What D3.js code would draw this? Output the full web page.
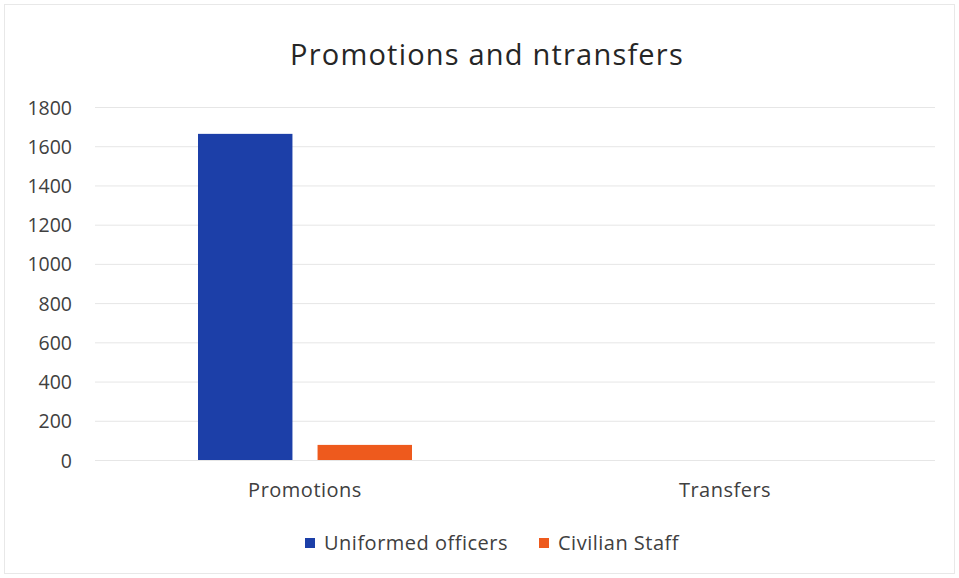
<!DOCTYPE html>
<html>
<head>
<meta charset="utf-8">
<script src="https://cdn.jsdelivr.net/npm/d3@7"></script>
<style>
  body { margin: 0; background: #fff; }
  svg, svg text { font-family: "Open Sans", "Noto Sans", sans-serif; }
  .tick text { fill: #404040; }
</style>
</head>
<body>
<svg id="chart" width="959" height="578"></svg>
<script>
// data
const categories = ["Promotions", "Transfers"];
const seriesNames = ["Uniformed officers", "Civilian Staff"];
const uniformed = [1663, 0];
const civilian = [77, 0];
const yTicks = [0, 200, 400, 600, 800, 1000, 1200, 1400, 1600, 1800];
const colors = ["#1c3fa8", "#ee5a1d"];

const svg = d3.select("#chart");
const W = 959, H = 578;
const margin = {top: 107, right: 24, bottom: 118, left: 95};
const iw = W - margin.left - margin.right;
const ih = H - margin.top - margin.bottom;

svg.append("rect")
    .attr("x", 4.5).attr("y", 4.5)
    .attr("width", W - 9).attr("height", H - 9)
    .attr("fill", "none").attr("stroke", "#e8e8e8");

const g = svg.append("g").attr("transform", `translate(${margin.left},${margin.top})`);

const x0 = d3.scaleBand().domain(categories).range([0, iw]).paddingInner(0).paddingOuter(0);
const x1 = d3.scaleBand().domain(seriesNames).range([103, x0.bandwidth() - 103]).paddingInner(0.21);
const y = d3.scaleLinear().domain([0, 1800]).range([ih, 0]);

// gridlines
g.append("g")
    .selectAll("line")
    .data(yTicks)
    .join("line")
    .attr("x1", 0).attr("x2", iw)
    .attr("y1", d => y(d) + 0.5).attr("y2", d => y(d) + 0.5)
    .attr("stroke", "#e6e6e6");

// y axis labels
const yAxis = g.append("g")
    .call(d3.axisLeft(y).tickValues(yTicks).tickFormat(d3.format("d")).tickSize(0).tickPadding(23))
    .attr("font-family", null);
yAxis.select(".domain").remove();
yAxis.selectAll("text").attr("font-size", 19.5).attr("dy", "0.36em");

// x axis labels
const xAxis = g.append("g")
    .attr("transform", `translate(0,${ih})`)
    .call(d3.axisBottom(x0).tickSize(0).tickPadding(23))
    .attr("font-family", null);
xAxis.select(".domain").remove();
xAxis.selectAll("text").attr("font-size", 20).attr("letter-spacing", 0.5);

// bars
const rows = categories.map((c, i) => ({cat: c, vals: [uniformed[i], civilian[i]]}));
g.append("g")
    .selectAll("g")
    .data(rows)
    .join("g")
    .attr("transform", d => `translate(${x0(d.cat)},0)`)
    .selectAll("rect")
    .data(d => d.vals.map((v, j) => ({name: seriesNames[j], v, j})))
    .join("rect")
    .attr("x", d => x1(d.name))
    .attr("width", x1.bandwidth())
    .attr("y", d => y(d.v))
    .attr("height", d => y(0) - y(d.v))
    .attr("fill", d => colors[d.j]);

// title
svg.append("text")
    .attr("x", 487).attr("y", 65)
    .attr("text-anchor", "middle")
    .attr("font-size", 29)
    .attr("letter-spacing", 1.2)
    .attr("fill", "#262626")
    .text("Promotions and ntransfers");

// legend
const legendX = [305, 539];
const legend = svg.append("g");
seriesNames.forEach((n, i) => {
  legend.append("rect")
      .attr("x", legendX[i]).attr("y", 538)
      .attr("width", 10).attr("height", 10)
      .attr("fill", colors[i]);
  legend.append("text")
      .attr("x", legendX[i] + 19).attr("y", 550)
      .attr("font-size", 20)
      .attr("letter-spacing", 0.5)
      .attr("fill", "#404040")
      .text(n);
});
</script>
</body>
</html>
